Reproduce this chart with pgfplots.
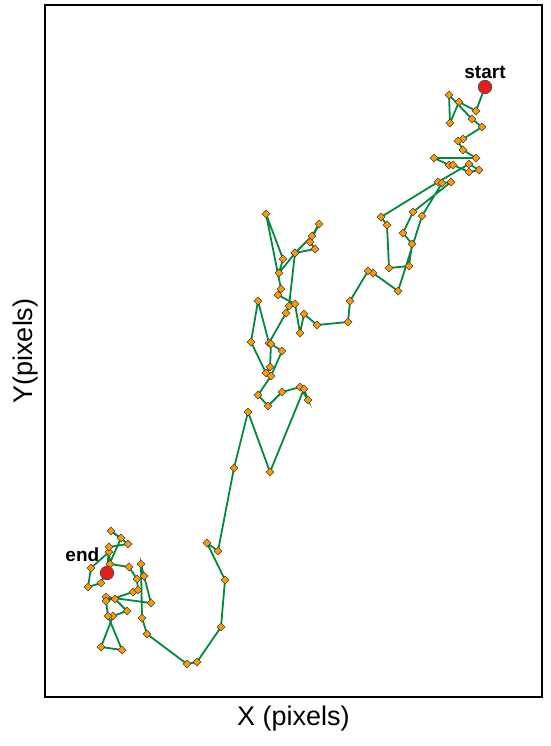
\documentclass[border=0pt]{standalone}
\usepackage{fontspec}
\setmainfont{Liberation Sans}
\usepackage{pgfplots}
\pgfplotsset{compat=1.18}
\definecolor{walkgreen}{RGB}{0,138,62}
\definecolor{dotorange}{RGB}{255,153,0}
\definecolor{endred}{RGB}{232,28,28}

% track in image pixels (y grows downward)
\pgfplotstableread{
x y
485 87
476 111
459 102
450 123
449 95
472 119
482 127
463 139
458 141
463 150
476 158
434 158
449 165
453 165
469 172
479 170
469 164
438 182
381 217
387 225
389 268
409 266
412 244
403 233
413 212
451 182
442 183
422 216
398 291
373 273
368 271
350 301
348 322
317 325
304 314
300 333
295 304
278 295
281 289
266 214
283 259
279 273
295 253
315 249
310 242
319 224
312 236
295 253
289 306
286 313
269 343
258 301
251 342
266 373
270 367
271 344
282 351
271 376
258 395
268 406
282 392
300 387
308 400
304 389
270 472
248 412
234 468
218 551
207 543
225 580
221 627
197 662
187 664
147 634
142 618
141 564
144 576
151 603
106 597
115 599
127 611
113 616
101 647
122 650
108 616
106 601
133 592
138 590
137 579
129 567
110 564
109 552
91 568
88 587
101 583
121 538
111 531
128 544
109 547
107 573
}\track

\begin{document}
\begin{tikzpicture}
\useasboundingbox (0,0) rectangle (550pt,746pt);
\begin{axis}[
  at={(45pt,49pt)}, anchor=south west,
  width=497pt, height=692pt, scale only axis,
  xmin=45, xmax=542, ymin=5, ymax=697, y dir=reverse,
  ticks=none, axis line style={line width=1.3pt},
  xlabel={X (pixels)}, ylabel={Y(pixels)},
  label style={font=\fontsize{27}{31}\selectfont},
  xlabel style={at={(axis description cs:0.5,0)}, anchor=center, yshift=-22pt},
  ylabel style={at={(axis description cs:0,0.5)}, anchor=center, yshift=19pt},
  clip=false
]
\addplot[walkgreen, line width=1.8pt, mark=square*, mark size=2.8pt,
  mark options={rotate=45, fill=dotorange, draw=black!75, line width=0.5pt}]
  table[x=x, y=y] {\track};
\addplot[only marks, mark=*, mark size=6.7pt,
  mark options={fill=endred, draw=black!70, line width=0.8pt},
  nodes near coords, point meta=explicit symbolic,
  every node near coord/.append style={font=\fontsize{19}{22}\selectfont\bfseries, anchor=south, yshift=5pt}]
  coordinates {(485,87)[start]};
\addplot[only marks, mark=*, mark size=6.7pt,
  mark options={fill=endred, draw=black!70, line width=0.8pt},
  nodes near coords, point meta=explicit symbolic,
  every node near coord/.append style={font=\fontsize{19}{22}\selectfont\bfseries, anchor=south east, xshift=-4pt, yshift=8pt}]
  coordinates {(107,573)[end]};
\end{axis}
\end{tikzpicture}
\end{document}
